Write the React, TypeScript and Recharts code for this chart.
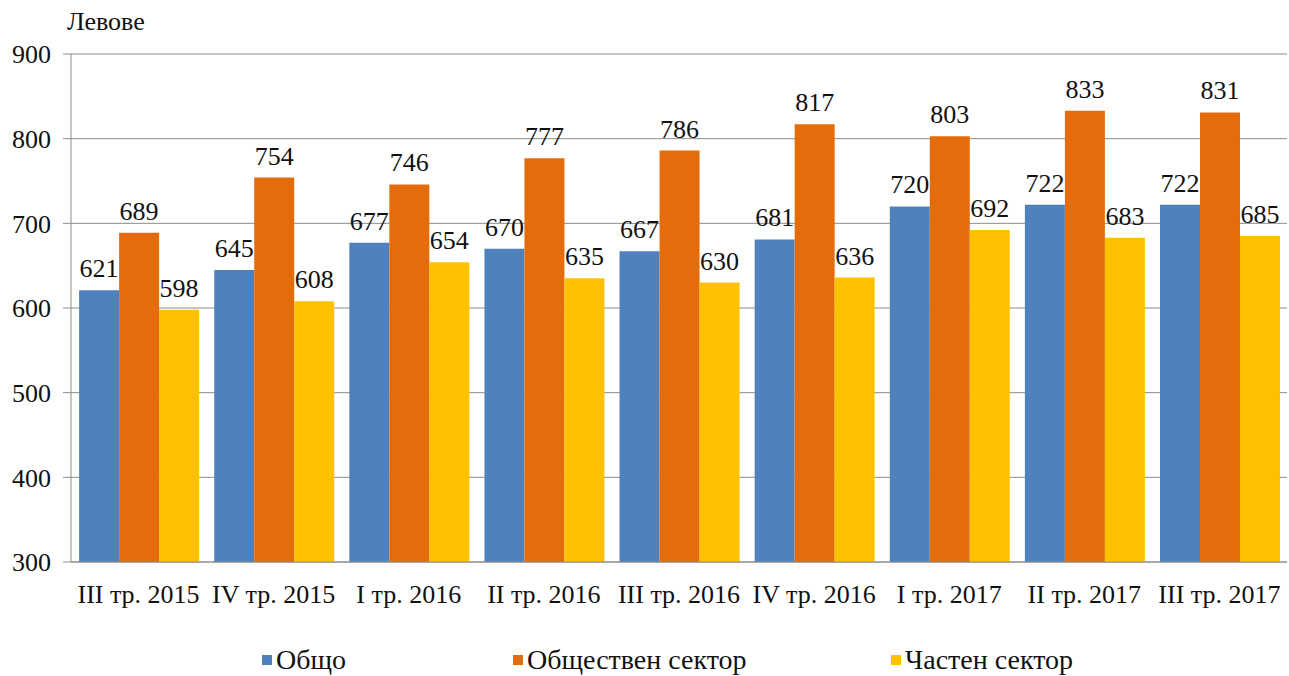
import { BarChart, Bar, XAxis, YAxis, CartesianGrid, Legend, LabelList } from 'recharts';

const quarters = [
  'III тр. 2015',
  'IV тр. 2015',
  'I тр. 2016',
  'II тр. 2016',
  'III тр. 2016',
  'IV тр. 2016',
  'I тр. 2017',
  'II тр. 2017',
  'III тр. 2017',
];
const total = [621, 645, 677, 670, 667, 681, 720, 722, 722];
const publicSector = [689, 754, 746, 777, 786, 817, 803, 833, 831];
const privateSector = [598, 608, 654, 635, 630, 636, 692, 683, 685];
const yTicks = [300, 400, 500, 600, 700, 800, 900];
const sepTicks = [0, 1, 2, 3, 4, 5, 6, 7, 8, 9];

const SERIES = [
  { key: 'total', name: 'Общо', color: '#4F81BD' },
  { key: 'public', name: 'Обществен сектор', color: '#E46C0A' },
  { key: 'private', name: 'Частен сектор', color: '#FFC000' },
];

const FONT = "'Liberation Serif', 'Times New Roman', serif";
const AXIS_GRAY = '#8c8c8c';
const TXT = '#111';

const data = quarters.map((q, i) => ({
  q,
  total: total[i],
  public: publicSector[i],
  private: privateSector[i],
}));

const legendLeft = [262, 513, 891];

function LegendContent() {
  return (
    <div style={{ position: 'relative', height: 32, fontFamily: FONT, fontSize: 28, lineHeight: '32px' }}>
      {SERIES.map((s, i) => (
        <div
          key={s.key}
          style={{ position: 'absolute', left: legendLeft[i], top: 0, display: 'flex', alignItems: 'center', whiteSpace: 'nowrap' }}
        >
          <span style={{ display: 'inline-block', width: 10, height: 10, background: s.color, marginRight: 4 }} />
          <span style={{ color: TXT }}>{s.name}</span>
        </div>
      ))}
    </div>
  );
}

export default function App() {
  return (
    <div
      style={{ position: 'absolute', left: 0, top: 0, width: 1289, height: 676, background: '#fff', fontFamily: FONT, overflow: 'hidden' }}
    >
      <BarChart
        width={1289}
        height={676}
        data={data}
        margin={{ top: 54, right: 2, left: 0, bottom: 0 }}
        barCategoryGap="6%"
        barGap={0}
        style={{ fontFamily: FONT }}
      >
        <CartesianGrid vertical={false} stroke={AXIS_GRAY} />
        <XAxis
          xAxisId="sep"
          type="number"
          domain={[0, 9]}
          ticks={sepTicks}
          height={0}
          axisLine={false}
          tickSize={7}
          tickLine={{ stroke: AXIS_GRAY }}
          tick={false}
        />
        <XAxis
          xAxisId="cat"
          dataKey="q"
          height={114}
          axisLine={{ stroke: AXIS_GRAY }}
          tickLine={false}
          tickSize={0}
          tickMargin={23}
          interval={0}
          tick={{ fill: TXT, fontFamily: FONT, fontSize: 26 }}
        />
        <YAxis
          domain={[300, 900]}
          ticks={yTicks}
          width={71}
          axisLine={{ stroke: AXIS_GRAY }}
          tickLine={{ stroke: AXIS_GRAY }}
          tickSize={8}
          tickMargin={12}
          tick={{ fill: TXT, fontFamily: FONT, fontSize: 26 }}
          label={{
            content: () => (
              <text x={67} y={30} fill={TXT} fontFamily={FONT} fontSize={26}>
                Левове
              </text>
            ),
          }}
        />
        <Legend
          verticalAlign="middle"
          align="center"
          layout="horizontal"
          wrapperStyle={{ top: 644, left: 0, width: 1289 }}
          content={() => <LegendContent />}
        />
        {SERIES.map((s) => (
          <Bar key={s.key} xAxisId="cat" dataKey={s.key} name={s.name} fill={s.color} isAnimationActive={false}>
            <LabelList dataKey={s.key} position="top" offset={13} fill={TXT} fontFamily={FONT} fontSize={26} />
          </Bar>
        ))}
      </BarChart>
    </div>
  );
}
